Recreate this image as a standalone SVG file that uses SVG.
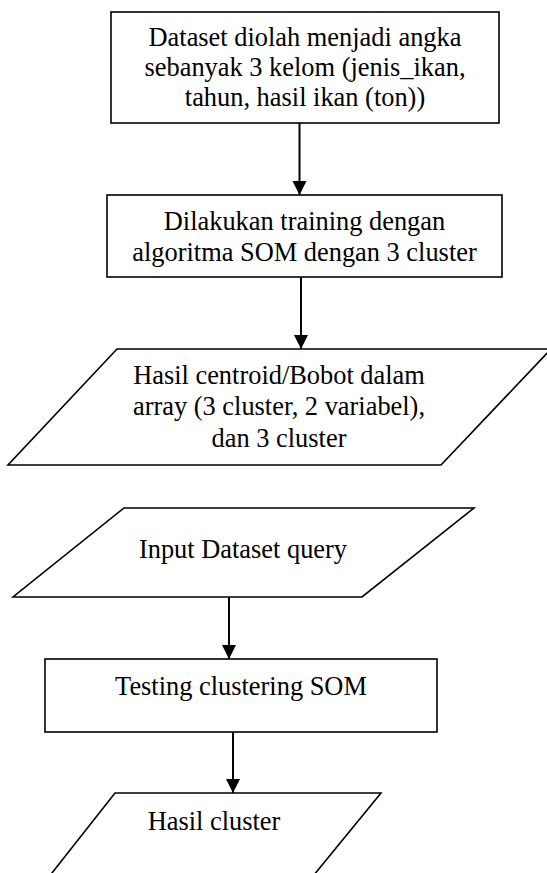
<svg xmlns="http://www.w3.org/2000/svg" width="547" height="873" viewBox="0 0 547 873">
  <style>
    .shape { fill: #ffffff; stroke: #000000; stroke-width: 1.6; }
    .label { font-family: "Liberation Serif", "Times New Roman", serif; font-size: 26.4px; fill: #000000; text-anchor: middle; }
    .edge { stroke: #000000; stroke-width: 2; fill: none; marker-end: url(#arrow); }
  </style>
  <defs>
    <marker id="arrow" markerUnits="userSpaceOnUse" markerWidth="14" markerHeight="16" refX="14" refY="7" orient="auto">
      <path d="M0,0 L14,7 L0,14 Z" fill="#000000"/>
    </marker>
  </defs>
  <rect width="547" height="873" fill="#ffffff"/>

  <g id="connectors">
    <line class="edge" x1="299.5" y1="123" x2="299.5" y2="195"/>
    <line class="edge" x1="301" y1="277" x2="301" y2="349"/>
    <line class="edge" x1="229" y1="597" x2="229" y2="659"/>
    <line class="edge" x1="233" y1="732" x2="233" y2="793"/>
  </g>

  <g id="dataset-prep">
    <rect class="shape" x="111" y="12" width="388" height="111"/>
    <text class="label" x="305" y="46">Dataset diolah menjadi angka</text>
    <text class="label" x="305" y="76">sebanyak 3 kelom (jenis_ikan,</text>
    <text class="label" x="305" y="106">tahun, hasil ikan (ton))</text>
  </g>

  <g id="som-training">
    <rect class="shape" x="107" y="195" width="395" height="82"/>
    <text class="label" x="304.5" y="230">Dilakukan training dengan</text>
    <text class="label" x="304.5" y="261">algoritma SOM dengan 3 cluster</text>
  </g>

  <g id="centroid-output">
    <polygon class="shape" points="117,349 551,349 441,465 8,465"/>
    <text class="label" x="279" y="384">Hasil centroid/Bobot dalam</text>
    <text class="label" x="279" y="415">array (3 cluster, 2 variabel),</text>
    <text class="label" x="279" y="447">dan 3 cluster</text>
  </g>

  <g id="query-input">
    <polygon class="shape" points="124,508 474,508 362,597 13,597"/>
    <text class="label" x="243" y="558">Input Dataset query</text>
  </g>

  <g id="som-testing">
    <rect class="shape" x="45" y="659" width="392" height="73"/>
    <text class="label" x="241" y="695">Testing clustering SOM</text>
  </g>

  <g id="cluster-output">
    <polygon class="shape" points="115,793 381,793 300,892 37,892"/>
    <text class="label" x="214" y="830">Hasil cluster</text>
  </g>
</svg>
